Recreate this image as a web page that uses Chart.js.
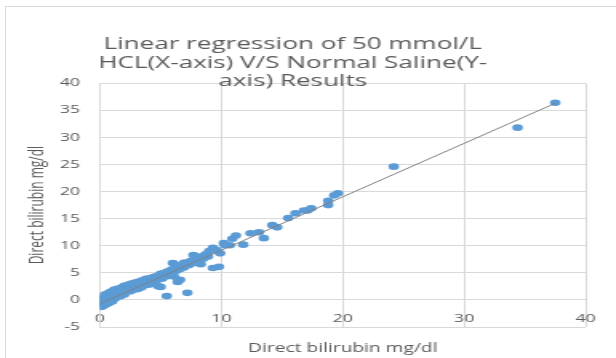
<!DOCTYPE html>
<html>
<head>
<meta charset="utf-8">
<script src="https://cdn.jsdelivr.net/npm/chart.js@4.4.1/dist/chart.umd.min.js"></script>
<style>
  html, body { margin: 0; padding: 0; background: #ffffff; }
  #wrap { position: relative; width: 616px; height: 358px; overflow: hidden; background: #fff; }
  #frame { position: absolute; left: 5px; top: 6px; width: 640px; height: 400px; border-left: 1px solid #d9d9d9; border-top: 1px solid #d9d9d9; }
  #c { position: absolute; left: 0; top: 0; }
</style>
</head>
<body>
<div id="wrap">
  <div id="frame"></div>
  <canvas id="c" width="385" height="358" style="width:616px;height:358px;"></canvas>
</div>
<script>
// ---- Data ----
const titleLines = ["Linear regression of 50 mmol/L", "HCL(X-axis) V/S Normal Saline(Y-", "axis) Results"];
const xAxisTitle = "Direct bilirubin mg/dl";
const yAxisTitle = "Direct bilirubin mg/dl";
const xTicks = [0, 10, 20, 30, 40];
const yTicks = [-5, 0, 5, 10, 15, 20, 25, 30, 35, 40];

const hclValues = [
  0, 0, 0.1, 0.1, 0.2, 0.2, 0.3, 0.3, 0.4, 0.4, 0.5, 0.5, 0.6, 0.7, 0.7, 0.8, 0.8, 0.9, 1.0, 1.0,
  1.1, 1.2, 1.2, 1.3, 1.4, 1.5, 1.5, 1.6, 1.7, 1.8, 1.8, 1.9, 2.0, 2.0, 2.1, 2.2, 2.3, 2.4, 2.5, 2.6,
  2.7, 2.8, 2.9, 3.0, 3.1, 3.2, 3.3, 3.4, 3.5, 3.6, 3.7, 3.8, 3.9, 4.0, 4.1, 4.2, 4.3, 4.4, 4.5, 4.6,
  4.7, 4.8, 4.9, 5.0, 5.0, 5.1, 5.3, 5.4, 5.5, 5.6, 5.7, 5.9, 6.0, 6.0, 6.1, 6.2, 6.3, 6.4, 6.5, 6.6,
  6.6, 6.8, 6.9, 6.9, 7.0, 7.2, 7.3, 7.5, 7.7, 7.7, 7.9, 8.0, 8.1, 8.3, 8.3, 8.5, 8.7, 8.9, 9.0, 9.3,
  9.3, 9.6, 9.8, 9.9, 10.2, 10.3, 10.7, 10.9, 11.2, 11.8, 12.4, 13.1, 13.5, 14.2, 14.6, 15.5, 16.1, 16.8, 17.1, 17.4,
  18.8, 18.8, 19.3, 19.6, 24.2, 34.4, 37.5
];
const salineValues = [
  -1.0, -0.3, 0.3, -1.3, -0.6, 0.8, 0.1, -1.1, 0.6, -0.4, 1.1, -0.8, 0.2, 0.9, -0.6, 1.4, 0.0, 0.5, 1.6, -0.3,
  0.8, 1.9, 0.2, 1.2, 0.6, 2.1, 0.9, 1.5, 0.7, 2.3, 1.2, 1.8, 2.6, 1.0, 2.0, 1.5, 2.8, 2.2, 1.6, 3.0,
  2.4, 1.9, 3.2, 2.6, 2.0, 3.4, 2.9, 2.3, 3.6, 3.1, 2.7, 3.9, 3.3, 2.8, 4.0, 3.6, 3.0, 4.2, 3.8, 3.4,
  4.4, 2.5, 4.1, 4.8, 2.4, 3.9, 5.0, 4.3, 0.7, 5.3, 4.6, 5.6, 5.0, 6.8, 4.3, 6.0, 5.4, 3.3, 6.3, 3.7,
  5.7, 6.5, 6.0, 6.8, 6.9, 1.3, 6.4, 7.2, 8.3, 6.8, 7.6, 7.9, 7.3, 8.0, 6.6, 7.6, 8.4, 8.0, 9.0, 9.6,
  5.9, 9.2, 6.1, 8.6, 10.5, 10.1, 10.1, 11.3, 11.9, 10.2, 12.3, 12.5, 11.4, 13.8, 13.4, 15.1, 16.0, 16.5, 16.5, 16.9,
  17.5, 18.3, 19.3, 19.7, 24.6, 31.8, 36.4
];
// Excel trendline end points
const trendX = [0, 37.5];
const trendY = [-0.7, 36.3];

// ---- Build chart ----
const points = hclValues.map((x, i) => ({ x: x, y: salineValues[i] }));
const trend = trendX.map((x, i) => ({ x: x, y: trendY[i] }));
const grey = '#595959';
const gridCol = '#d9d9d9';
const fam = "'Open Sans', 'Liberation Sans', sans-serif";

new Chart(document.getElementById('c'), {
  type: 'scatter',
  data: {
    datasets: [
      {
        type: 'line', data: trend, borderColor: '#808080', borderWidth: 1,
        pointRadius: 0, fill: false, order: 0, tension: 0
      },
      {
        data: points, backgroundColor: '#5B9BD5', borderColor: '#5B9BD5', borderWidth: 0,
        pointRadius: 3.3, order: 1
      }
    ]
  },
  options: {
    responsive: false,
    animation: false,
    devicePixelRatio: 1,
    layout: { padding: { left: 0, right: 19, top: 0, bottom: 31 } },
    plugins: {
      legend: { display: false },
      tooltip: { enabled: false },
      title: {
        display: true, text: titleLines, color: grey,
        font: { family: fam, size: 16.3, weight: 'normal', lineHeight: 1.15 },
        padding: { top: 35, bottom: -8 }
      }
    },
    scales: {
      x: {
        type: 'linear', position: { y: 0 }, min: 0, max: 40,
        afterBuildTicks: (s) => { s.ticks = xTicks.map(v => ({ value: v })); },
        ticks: { color: grey, font: { family: fam, size: 11 }, padding: 12 },
        grid: { color: gridCol, drawTicks: false },
        border: { color: gridCol },
        title: { display: true, text: xAxisTitle, color: grey, font: { family: fam, size: 12 }, padding: { top: 4, bottom: 0 } }
      },
      y: {
        type: 'linear', position: 'left', min: -5, max: 40,
        afterBuildTicks: (s) => { s.ticks = yTicks.map(v => ({ value: v })); },
        afterFit: (s) => { s.width = 62.5; },
        ticks: { color: grey, font: { family: fam, size: 11 }, padding: 12.5 },
        grid: { color: gridCol, drawTicks: false },
        border: { color: gridCol },
        title: { display: true, text: yAxisTitle, color: grey, font: { family: fam, size: 12 }, padding: { top: 16.5, bottom: 0 } }
      }
    }
  }
});
</script>
</body>
</html>
